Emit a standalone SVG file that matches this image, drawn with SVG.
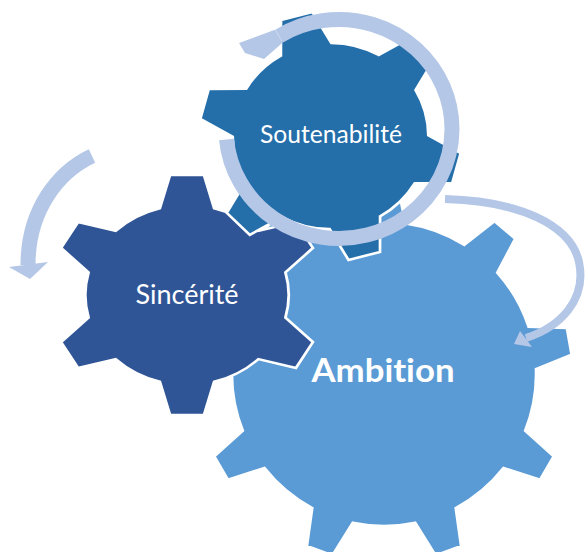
<svg xmlns="http://www.w3.org/2000/svg" width="585" height="552" viewBox="0 0 585 552">
  <defs>
    <style>
      .gear { stroke: #FFFFFF; stroke-width: 2.5; stroke-linejoin: miter; vector-effect: non-scaling-stroke; }
      .band { fill: none; stroke: #B4C7E7; stroke-linecap: butt; }
      .head { fill: #B4C7E7; stroke: none; }
      .lbl { fill: #FFFFFF; font-family: Lato, "Open Sans", "Liberation Sans", sans-serif; text-anchor: middle; font-variant-ligatures: none; font-feature-settings: "liga" 0, "clig" 0; }
    </style>
    <path id="gear6" d="M -24,-86.74 L -15,-120 L 15,-120 L 24,-86.74 A 90 90 0 0 1 63.12,-64.15 L 96.42,-72.99 L 111.42,-47.01 L 87.12,-22.59 A 90 90 0 0 1 87.12,22.59 L 111.42,47.01 L 96.42,72.99 L 63.12,64.15 A 90 90 0 0 1 24,86.74 L 15,120 L -15,120 L -24,86.74 A 90 90 0 0 1 -63.12,64.15 L -96.42,72.99 L -111.42,47.01 L -87.12,22.59 A 90 90 0 0 1 -87.12,-22.59 L -111.42,-47.01 L -96.42,-72.99 L -63.12,-64.15 A 90 90 0 0 1 -24,-86.74 Z"/>
    <path id="gear9" d="M -21.5,-150.47 L -13.5,-188 L 13.5,-188 L 21.5,-150.47 A 152 152 0 0 1 80.25,-129.08 L 110.51,-152.69 L 131.19,-135.33 L 113.19,-101.44 A 152 152 0 0 1 144.45,-47.29 L 182.8,-45.93 L 187.48,-19.35 L 151.91,-4.95 A 152 152 0 0 1 141.06,56.62 L 169.56,82.31 L 156.06,105.69 L 119.56,93.86 A 152 152 0 0 1 71.66,134.05 L 76.99,172.04 L 51.61,181.28 L 31.26,148.75 A 152 152 0 0 1 -31.26,148.75 L -51.61,181.28 L -76.99,172.04 L -71.66,134.05 A 152 152 0 0 1 -119.56,93.86 L -156.06,105.69 L -169.56,82.31 L -141.06,56.62 A 152 152 0 0 1 -151.91,-4.95 L -187.48,-19.35 L -182.8,-45.93 L -144.45,-47.29 A 152 152 0 0 1 -113.19,-101.44 L -131.19,-135.33 L -110.51,-152.69 L -80.25,-129.08 A 152 152 0 0 1 -21.5,-150.47 Z"/>
  </defs>

  <g id="node-ambition">
    <use href="#gear9" class="gear" fill="#5B9BD5" transform="translate(384,374)"/>
    <text class="lbl" x="383" y="381.5" font-size="33" font-weight="bold" textLength="143" lengthAdjust="spacingAndGlyphs">Ambition</text>
  </g>

  <g id="node-sincerite">
    <use href="#gear6" class="gear" fill="#2F5597" transform="translate(187,295) scale(1.13,1)"/>
    <text class="lbl" x="187" y="304" font-size="26" textLength="103" lengthAdjust="spacingAndGlyphs">Sincérité</text>
  </g>

  <g id="node-soutenabilite">
    <use href="#gear6" class="gear" fill="#246EA9" transform="translate(330.5,136) scale(1.05,1) rotate(-15) scale(1.035)"/>
    <text class="lbl" x="331" y="143" font-size="25" textLength="142" lengthAdjust="spacingAndGlyphs">Soutenabilité</text>
  </g>

  <g id="connectors">
    <path class="band" stroke-width="15" d="M 226.5,139.5 A 113 109.5 0 1 0 279.1,36.1"/>
    <polygon class="head" points="274.9,29.8 239,43 245,53 264,59 282.8,42.5"/>

    <path class="band" stroke-width="15" d="M 92,156 C 58,172 28,210 28,265"/>
    <polygon class="head" points="9,267 48,262 30,279"/>

    <path class="band" stroke-width="8" d="M 445,199 C 520,201 571,225 579,262 C 587,300 560,327 526,338"/>
    <polygon class="head" points="520,331 532,347 514,344"/>
  </g>
</svg>
